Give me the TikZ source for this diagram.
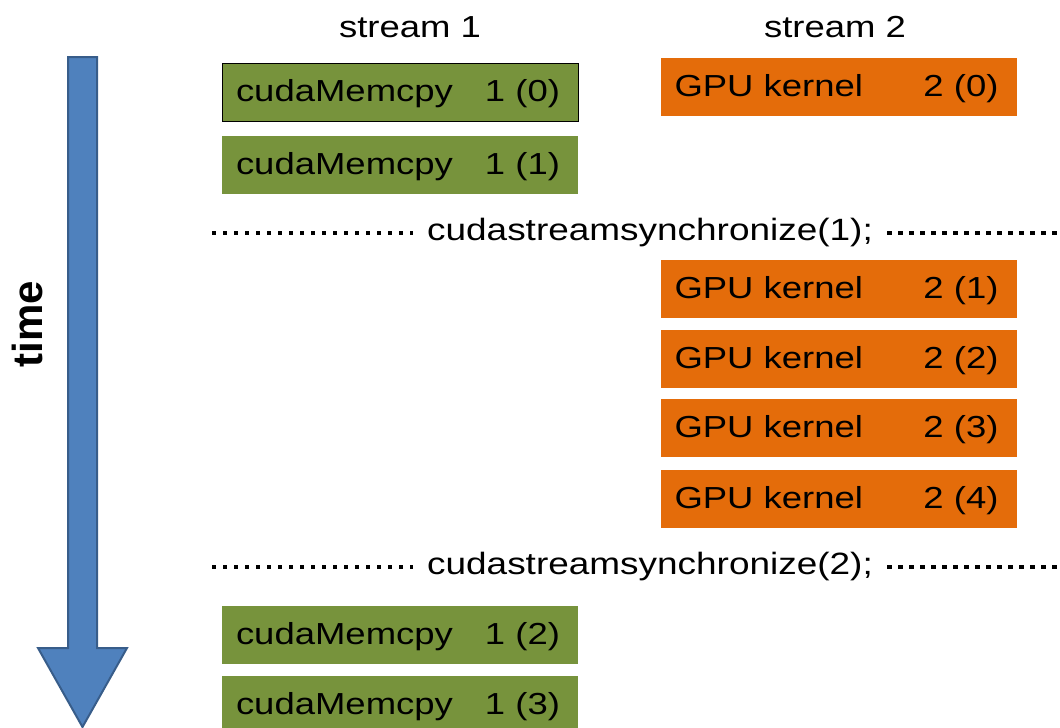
\documentclass[tikz,border=0pt]{standalone}
\usepackage{fontspec}
\setmainfont[FakeStretch=1.2]{Liberation Sans}
\newfontfamily\timefont{Liberation Sans}
\usepackage{tikz}
\usetikzlibrary{positioning}

\definecolor{copygreen}{RGB}{119,147,60}
\definecolor{kernelorange}{RGB}{228,108,10}
\definecolor{arrowblue}{RGB}{79,129,189}
\definecolor{arrowedge}{RGB}{56,93,138}

\tikzset{
    taskbox/.style={minimum height=29pt, text width=164pt, text height=1.2em, text depth=0.21em, inner xsep=7pt, inner ysep=0pt, align=left},
    memcpy/.style={taskbox, fill=copygreen},
    kernel/.style={taskbox, fill=kernelorange},
    syncline/.style={line width=2.2pt, dash pattern=on 2.2pt off 3.3pt},
}

\begin{document}
\begin{tikzpicture}[x=0.5pt, y=-0.5pt, font=\fontsize{15.2}{18}\selectfont]
        \useasboundingbox (0,0) rectangle (1060,728);

        % Time arrow
        \filldraw[fill=arrowblue, draw=arrowedge, line width=1pt]
            (68,57) -- (97,57) -- (97,648) -- (127,648) -- (82.5,727) -- (38,648) -- (68,648) -- cycle;
        \node[rotate=90, font=\timefont\bfseries\fontsize{21}{24}\selectfont] (time) at (27,324) {time};

        % Stream headers
        \node (stream1) at (410,27) {stream 1};
        \node (stream2) at (835,27) {stream 2};

        % Stream 1
        \node[memcpy, draw=black, line width=0.5pt] (copy0) at (400,92) {cudaMemcpy\hfill 1 (0)\kern2pt};
        \node[memcpy] (copy1) at (400,165) {cudaMemcpy\hfill 1 (1)\kern2pt};
        \node[memcpy] (copy2) at (400,634.5) {cudaMemcpy\hfill 1 (2)\kern2pt};
        \node[memcpy] (copy3) at (400,705) {cudaMemcpy\hfill 1 (3)\kern2pt};

        % Stream 2
        \node[kernel] (kern0) at (838.5,87) {GPU kernel\hfill 2 (0)\kern2pt};
        \node[kernel] (kern1) at (838.5,289) {GPU kernel\hfill 2 (1)\kern2pt};
        \node[kernel] (kern2) at (838.5,359) {GPU kernel\hfill 2 (2)\kern2pt};
        \node[kernel] (kern3) at (838.5,428) {GPU kernel\hfill 2 (3)\kern2pt};
        \node[kernel] (kern4) at (838.5,499) {GPU kernel\hfill 2 (4)\kern2pt};

        % Synchronization points
        \node[inner xsep=7pt, font=\fontsize{15.4}{18}\selectfont] (sync1) at (650,233) {cudastreamsynchronize(1);};
        \coordinate (sync1l) at (212,233);
        \coordinate (sync1r) at (1058,233);
        \draw[syncline] (sync1l) -- (sync1);
        \draw[syncline] (sync1) -- (sync1r);

        \node[inner xsep=7pt, font=\fontsize{15.4}{18}\selectfont] (sync2) at (650,567) {cudastreamsynchronize(2);};
        \coordinate (sync2l) at (212,567);
        \coordinate (sync2r) at (1058,567);
        \draw[syncline] (sync2l) -- (sync2);
        \draw[syncline] (sync2) -- (sync2r);
    \end{tikzpicture}
\end{document}
